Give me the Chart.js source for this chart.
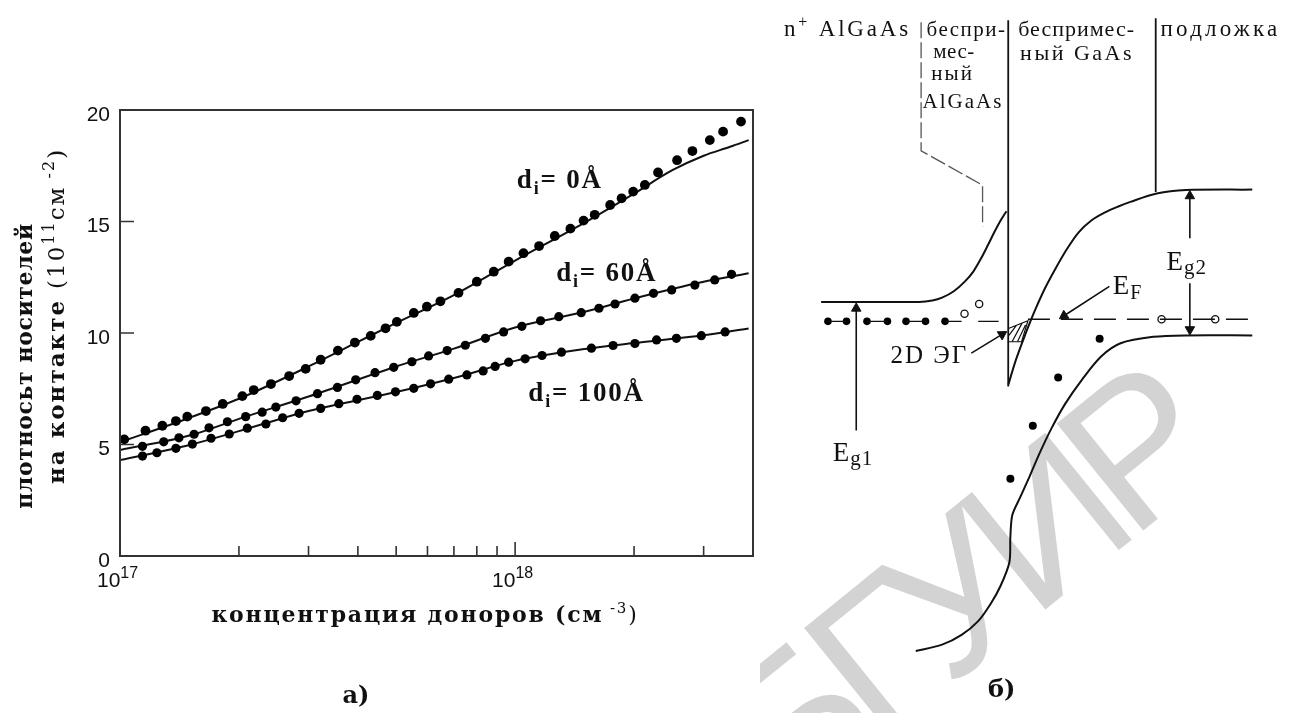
<!DOCTYPE html>
<html>
<head>
<meta charset="utf-8">
<script src="https://cdn.jsdelivr.net/npm/chart.js@4.4.1/dist/chart.umd.min.js"></script>
<style>
  html, body { margin: 0; padding: 0; background: #fff; }
  #wrap { position: relative; width: 1289px; height: 713px; overflow: hidden; }
  #left { position: absolute; left: 0; top: 0; }
  #right { position: absolute; left: 760px; top: 0; }
</style>
</head>
<body>
<div id="wrap">
  <canvas id="left" width="770" height="713"></canvas>
  <canvas id="right" width="530" height="713"></canvas>
</div>
<script>
// ---------- panel a): sheet density vs donor concentration ----------
const xTicks = [1e17, 2e17, 3e17, 4e17, 5e17, 6e17, 7e17, 8e17, 9e17, 1e18, 2e18, 3e18];

const d0Line = [[1e17,5.1],[1.5e17,6.2],[2e17,7.05],[3e17,8.5],[4e17,9.6],[5e17,10.45],[7e17,11.7],
  [1e18,13.25],[1.5e18,14.95],[2e18,16.25],[2.5e18,17.3],[3e18,17.95],[3.5e18,18.35],[3.9e18,18.65]];
const d0Dots = [[1.025e17,5.23],[1.16e17,5.62],[1.28e17,5.84],[1.385e17,6.05],[1.48e17,6.25],[1.65e17,6.5],
  [1.82e17,6.82],[2.04e17,7.17],[2.18e17,7.44],[2.41e17,7.71],[2.68e17,8.07],[2.95e17,8.39],[3.22e17,8.8],
  [3.56e17,9.21],[3.93e17,9.57],[4.31e17,9.87],[4.7e17,10.21],[5.02e17,10.5],[5.54e17,10.9],[5.98e17,11.18],
  [6.47e17,11.42],[7.19e17,11.8],[8.0e17,12.3],[8.83e17,12.75],[9.63e17,13.2],[1.05e18,13.58],[1.15e18,13.9],
  [1.26e18,14.35],[1.38e18,14.68],[1.49e18,15.04],[1.59e18,15.3],[1.74e18,15.74],[1.86e18,16.04],
  [1.99e18,16.34],[2.13e18,16.64],[2.3e18,17.2],[2.57e18,17.75],[2.81e18,18.16],[3.11e18,18.65],
  [3.36e18,19.03],[3.73e18,19.48]];

const d60Line = [[1e17,4.75],[1.5e17,5.4],[2e17,6.15],[3e17,7.15],[5e17,8.5],[7e17,9.3],[1e18,10.25],
  [1.5e18,10.95],[2e18,11.55],[3e18,12.3],[3.9e18,12.68]];
const d60Dots = [[1.14e17,4.92],[1.29e17,5.12],[1.41e17,5.3],[1.54e17,5.46],[1.68e17,5.75],[1.87e17,6.02],
  [2.08e17,6.25],[2.29e17,6.45],[2.48e17,6.68],[2.79e17,6.96],[3.16e17,7.28],[3.55e17,7.56],[3.95e17,7.9],
  [4.42e17,8.22],[4.93e17,8.46],[5.48e17,8.71],[6.04e17,8.97],[6.73e17,9.21],[7.48e17,9.45],[8.41e17,9.76],
  [9.35e17,10.05],[1.04e18,10.3],[1.16e18,10.55],[1.29e18,10.73],[1.47e18,10.91],[1.63e18,11.11],
  [1.79e18,11.3],[2.01e18,11.56],[2.24e18,11.78],[2.49e18,11.93],[2.85e18,12.15],[3.2e18,12.38],[3.53e18,12.63]];

const d100Line = [[1e17,4.3],[1.5e17,4.98],[2e17,5.6],[3e17,6.5],[5e17,7.35],[7e17,7.98],[1e18,8.75],
  [1.5e18,9.28],[2e18,9.55],[3e18,9.9],[3.9e18,10.2]];
const d100Dots = [[1.14e17,4.48],[1.24e17,4.63],[1.385e17,4.83],[1.525e17,5.02],[1.7e17,5.28],[1.89e17,5.47],
  [2.1e17,5.73],[2.34e17,5.92],[2.58e17,6.2],[2.84e17,6.4],[3.22e17,6.62],[3.58e17,6.83],[3.98e17,7.03],
  [4.48e17,7.2],[4.98e17,7.36],[5.54e17,7.52],[6.11e17,7.72],[6.79e17,7.93],[7.55e17,8.12],[8.3e17,8.3],
  [8.9e17,8.5],[9.63e17,8.69],[1.06e18,8.84],[1.17e18,8.99],[1.31e18,9.14],[1.56e18,9.32],[1.77e18,9.44],
  [2.01e18,9.53],[2.28e18,9.69],[2.56e18,9.76],[2.96e18,9.88],[3.4e18,10.05]];

const curveLabels = [
  { sub: '= 0Å', x: 1.01e18, y: 16.5 },
  { sub: '= 60Å', x: 1.27e18, y: 12.35 },
  { sub: '= 100Å', x: 1.08e18, y: 6.95 }
];

// ---------- panel б): band diagram (arbitrary position / energy units) ----------
const ecLeft = [[11.2,82.4],[31.3,82.4],[34,82.7],[36,83.3],[38.4,84.6],[40.7,86.6],[42.4,88.6],[44,91.3],
  [45.4,94],[46.7,96.6],[48,99],[49.2,100.9]];
const ecRight = [[49.6,65.6],[51,70.2],[52.6,74.6],[54,78.2],[55.3,81.3],[57.2,85.4],[59.3,89.3],[61.6,93.2],
  [64,96.6],[66.6,99],[69.3,100.6],[72,101.8],[74.6,102.8],[80,104.5],[86,105.2],[99.6,105.3]];
const evRight = [[99.6,75.6],[86,75.6],[79.3,75.3],[72.6,74],[68.6,71.3],[64.7,66.6],[61.2,61.6],[58.4,56.6],
  [56,51.6],[54,47],[52,42.6],[50.4,39],[50,34.6],[49.8,29.4],[48,24.6],[46,21],[43.4,17.4],[40,14.6],
  [36,12.6],[30.6,11.3]];
const interfaceLine = [[49.56,139.8],[49.56,65.2]];
const substrateLine = [[79.8,140.2],[79.8,104.8]];
const spacerBracket = [[31.7,139.4],[31.7,113.2],[44.3,106.2],[44.3,97.8]];
const efLeftPairs = [[12.6,78.46],[16.4,78.46],null,[20.6,78.46],[24.8,78.46],null,[28.6,78.46],[32.6,78.46],
  null,[36.6,78.46],[40,78.46],null,[43.4,78.46],[47.6,78.46]];
const efLeftDots = [[12.6,78.46],[16.4,78.46],[20.6,78.46],[24.8,78.46],[28.6,78.46],[32.6,78.46],[36.6,78.46]];
const efRight = [[53.6,78.9],[99.6,78.9]];
const openCircles = [[40.6,80],[43.6,82],[81,78.9],[92,78.9]];
const gaasDots = [[68.3,74.9],[59.8,67],[54.6,57.2],[50,46.4]];
const twoDeg = [[49.6,77],[53.6,78.6],[52.3,74.3],[49.6,74.3],null,[49.7,75.6],[51.2,77.6],null,
  [50.4,74.4],[52.4,78.1],null,[51.5,74.4],[53.1,77.7]];
const arrows = [
  { from: [18.4,56.2], to: [18.4,81.1] },   // Eg1
  { from: [86.8,95.4], to: [86.8,104] },    // Eg2 up
  { from: [86.8,86.2], to: [86.8,76.8] },   // Eg2 down
  { from: [42,72], to: [48.3,75.8] },       // 2D ЭГ
  { from: [70.3,85.6], to: [61,79.6] }      // EF
];

const bandLabels = [
  { parts: [['n',23],['+',16,-9],[' AlGaAs',23]], x: 3.6, y: 136.6, ls: 2.8 },
  { parts: [['беспри-',21]], x: 32.8, y: 136.6, ls: 1.5 },
  { parts: [['мес-',21]], x: 34.2, y: 132.1, ls: 0.5 },
  { parts: [['ный',21]], x: 33.8, y: 127.6, ls: 2 },
  { parts: [['AlGaAs',21]], x: 32, y: 122, ls: 2 },
  { parts: [['беспримес-',22]], x: 51.6, y: 136.6, ls: 1 },
  { parts: [['ный GaAs',22]], x: 52, y: 131.8, ls: 2.5 },
  { parts: [['подложка',23]], x: 80.8, y: 136.6, ls: 3.2 },
  { parts: [['E',27],['F',20,5]], x: 71, y: 84, ls: 1 },
  { parts: [['E',27],['g2',21,4]], x: 82, y: 89, ls: 1 },
  { parts: [['E',27],['g1',21,4]], x: 13.6, y: 50, ls: 1 },
  { parts: [['2D ЭГ',25]], x: 25.4, y: 70, ls: 2 }
];

// ---------- helpers ----------
const toXY = arr => arr.map(p => p ? { x: p[0], y: p[1] } : { x: null, y: null });

function drawParts(ctx, parts, x, y, opts = {}) {
  const { align = 'left', angle = 0, spacing = 0, color = '#111' } = opts;
  ctx.save();
  ctx.translate(x, y);
  if (angle) ctx.rotate(angle);
  ctx.textAlign = 'left';
  ctx.textBaseline = 'alphabetic';
  ctx.fillStyle = color;
  if ('letterSpacing' in ctx) ctx.letterSpacing = spacing + 'px';
  const widths = parts.map(p => { ctx.font = p[1]; return ctx.measureText(p[0]).width; });
  const total = widths.reduce((a, b) => a + b, 0);
  let cx = align === 'center' ? -total / 2 : (align === 'right' ? -total : 0);
  parts.forEach((p, i) => {
    ctx.font = p[1];
    ctx.fillText(p[0], cx, p[2] || 0);
    cx += widths[i];
  });
  ctx.restore();
}

// frame + inward tick marks for panel a)
const framePlugin = {
  id: 'frame',
  afterDatasetsDraw(chart) {
    const { ctx, chartArea: a, scales: { x, y } } = chart;
    ctx.save();
    ctx.strokeStyle = '#333';
    ctx.lineWidth = 2;
    ctx.strokeRect(a.left, a.top, a.right - a.left, a.bottom - a.top);
    ctx.lineWidth = 1.6;
    ctx.beginPath();
    x.ticks.forEach(t => {
      const px = x.getPixelForValue(t.value);
      const len = Math.abs(Math.log10(t.value) % 1) < 1e-9 ? 14 : 10;
      ctx.moveTo(px, a.bottom);
      ctx.lineTo(px, a.bottom - len);
    });
    y.ticks.forEach(t => {
      const py = y.getPixelForValue(t.value);
      ctx.moveTo(a.left, py);
      ctx.lineTo(a.left + 14, py);
    });
    ctx.stroke();
    ctx.restore();
  }
};

const leftText = {
  id: 'leftText',
  afterDraw(chart) {
    const { ctx, scales: { x, y } } = chart;
    const sans = '"Liberation Sans", Arial, sans-serif';
    const slab = '"DejaVu Serif", serif';
    const times = '"Liberation Serif", "Times New Roman", serif';
    x.ticks.forEach(t => {
      const e = Math.log10(t.value);
      if (Math.abs(e - Math.round(e)) > 1e-9) return;
      const px = x.getPixelForValue(t.value);
      drawParts(ctx, [['10', '21px ' + sans], [String(Math.round(e)), '16px ' + sans, -9]], px - 23, 587);
    });
    // axis titles
    drawParts(ctx, [['концентрация доноров (см', 'bold 22px ' + slab], [' -3', '15px ' + slab, -9],
      [')', '22px ' + slab]], 425, 622, { align: 'center', spacing: 1.8 });
    drawParts(ctx, [['плотносьт носителей', 'bold 22px ' + slab]], 32, 366,
      { align: 'center', angle: -Math.PI / 2, spacing: 0.6 });
    drawParts(ctx, [['на контакте ', 'bold 23px ' + slab], ['(10', '23px ' + slab], ['11', '16px ' + slab, -10],
      ['см', '23px ' + slab], [' -2', '16px ' + slab, -10], [')', '23px ' + slab]],
      64, 316, { align: 'center', angle: -Math.PI / 2, spacing: 2 });
    // curve labels
    curveLabels.forEach(l => {
      drawParts(ctx, [['d', 'bold 27px ' + times], ['i', 'bold 18px ' + times, 6], [l.sub, 'bold 27px ' + times]],
        x.getPixelForValue(l.x), y.getPixelForValue(l.y), { spacing: 1.8 });
    });
    drawParts(ctx, [['а)', 'bold 24px ' + slab]], 356, 703, { align: 'center' });
  }
};

const lineStyle = { showLine: true, pointRadius: 0, borderColor: '#111', borderWidth: 2,
  cubicInterpolationMode: 'monotone', fill: false, order: 2 };
const dotStyle = { showLine: false, pointRadius: 4.6, pointBackgroundColor: '#000',
  pointBorderColor: '#000', pointBorderWidth: 0, order: 1 };

new Chart(document.getElementById('left'), {
  type: 'scatter',
  data: {
    datasets: [
      { ...lineStyle, label: 'd=0 calc', data: toXY(d0Line) },
      { ...lineStyle, label: 'd=60 calc', data: toXY(d60Line) },
      { ...lineStyle, label: 'd=100 calc', data: toXY(d100Line) },
      { ...dotStyle, label: 'd=0', data: toXY(d0Dots), pointRadius: 4.9 },
      { ...dotStyle, label: 'd=60', data: toXY(d60Dots) },
      { ...dotStyle, label: 'd=100', data: toXY(d100Dots) }
    ]
  },
  options: {
    responsive: false,
    animation: false,
    layout: { padding: { left: 0, top: 110, right: 17, bottom: 87 } },
    plugins: { legend: { display: false }, tooltip: { enabled: false } },
    scales: {
      x: {
        type: 'logarithmic', min: 1e17, max: 4e18,
        afterBuildTicks: s => { s.ticks = xTicks.map(v => ({ value: v })); },
        afterFit: s => { s.height = 70; },
        grid: { display: false, drawTicks: false },
        border: { display: false },
        ticks: { display: false }
      },
      y: {
        min: 0, max: 20,
        afterFit: s => { s.width = 120; },
        grid: { display: false, drawTicks: false },
        border: { display: false },
        ticks: { stepSize: 5, padding: 10, labelOffset: 5, color: '#111',
          font: { family: '"Liberation Sans", Arial, sans-serif', size: 21 } }
      }
    }
  },
  plugins: [framePlugin, leftText]
});

// ---------- panel б) ----------
const segStyle = (data, extra = {}) => ({ data: toXY(data), showLine: true, pointRadius: 0,
  borderColor: '#111', borderWidth: 1.8, spanGaps: false, tension: 0, ...extra });

const arrowSegments = [];
arrows.forEach(a => { arrowSegments.push(a.from, a.to, null); });

const watermark = {
  id: 'watermark',
  beforeDatasetsDraw(chart) {
    const { ctx, scales: { x, y } } = chart;
    ctx.save();
    ctx.translate(x.getPixelForValue(41.8), y.getPixelForValue(21.8));
    ctx.rotate(-39 * Math.PI / 180);
    ctx.font = '200px "Liberation Sans", Arial, sans-serif';
    if ('letterSpacing' in ctx) ctx.letterSpacing = '-18px';
    ctx.fillStyle = '#d3d3d3';
    ctx.textAlign = 'center';
    ctx.textBaseline = 'middle';
    ctx.fillText('БГУИР', 0, 0);
    ctx.restore();
  }
};

const bandText = {
  id: 'bandText',
  afterDraw(chart) {
    const { ctx, scales: { x, y } } = chart;
    const times = '"Liberation Serif", "Times New Roman", serif';
    bandLabels.forEach(l => {
      drawParts(ctx, l.parts.map(p => [p[0], p[1] + 'px ' + times, p[2] || 0]),
        x.getPixelForValue(l.x), y.getPixelForValue(l.y), { spacing: l.ls || 0 });
    });
    drawParts(ctx, [['б)', 'bold 24px "DejaVu Serif", serif']], x.getPixelForValue(48.2), y.getPixelForValue(2),
      { align: 'center' });
  }
};

new Chart(document.getElementById('right'), {
  type: 'scatter',
  data: {
    datasets: [
      segStyle(ecLeft, { borderWidth: 2, cubicInterpolationMode: 'monotone' }),
      segStyle(ecRight, { borderWidth: 2, tension: 0.3 }),
      segStyle(evRight, { borderWidth: 2, tension: 0.3 }),
      segStyle(interfaceLine),
      segStyle(substrateLine),
      segStyle(spacerBracket, { borderColor: '#555', borderWidth: 1.3, borderDash: [16, 4] }),
      segStyle(efLeftPairs, { borderWidth: 1.4 }),
      segStyle(efRight, { borderWidth: 1.4, borderDash: [22, 11] }),
      segStyle(twoDeg, { borderWidth: 1.2 }),
      segStyle(arrowSegments, { borderWidth: 1.6 }),
      { data: toXY(efLeftDots), pointRadius: 3.8, pointBackgroundColor: '#000', pointBorderWidth: 0 },
      { data: toXY(gaasDots), pointRadius: 4, pointBackgroundColor: '#000', pointBorderWidth: 0 },
      { data: toXY(openCircles), pointRadius: 3.6, pointBackgroundColor: '#fff', pointBorderColor: '#111',
        pointBorderWidth: 1.3 },
      { data: arrows.map(a => ({ x: a.to[0], y: a.to[1] })), pointStyle: 'triangle', pointRadius: 5.5,
        pointBackgroundColor: '#111', pointBorderColor: '#111', pointBorderWidth: 1,
        pointRotation: c => {
          const a = arrows[c.dataIndex];
          const sx = c.chart.scales.x, sy = c.chart.scales.y;
          const dx = sx.getPixelForValue(a.to[0]) - sx.getPixelForValue(a.from[0]);
          const dy = sy.getPixelForValue(a.to[1]) - sy.getPixelForValue(a.from[1]);
          return Math.atan2(dy, dx) * 180 / Math.PI + 90;
        } }
    ]
  },
  options: {
    responsive: false,
    animation: false,
    layout: { padding: 0 },
    plugins: { legend: { display: false }, tooltip: { enabled: false } },
    scales: {
      x: { type: 'linear', min: 0, max: 106, display: false },
      y: { type: 'linear', min: 0, max: 142.6, display: false }
    }
  },
  plugins: [watermark, bandText]
});
</script>
</body>
</html>
